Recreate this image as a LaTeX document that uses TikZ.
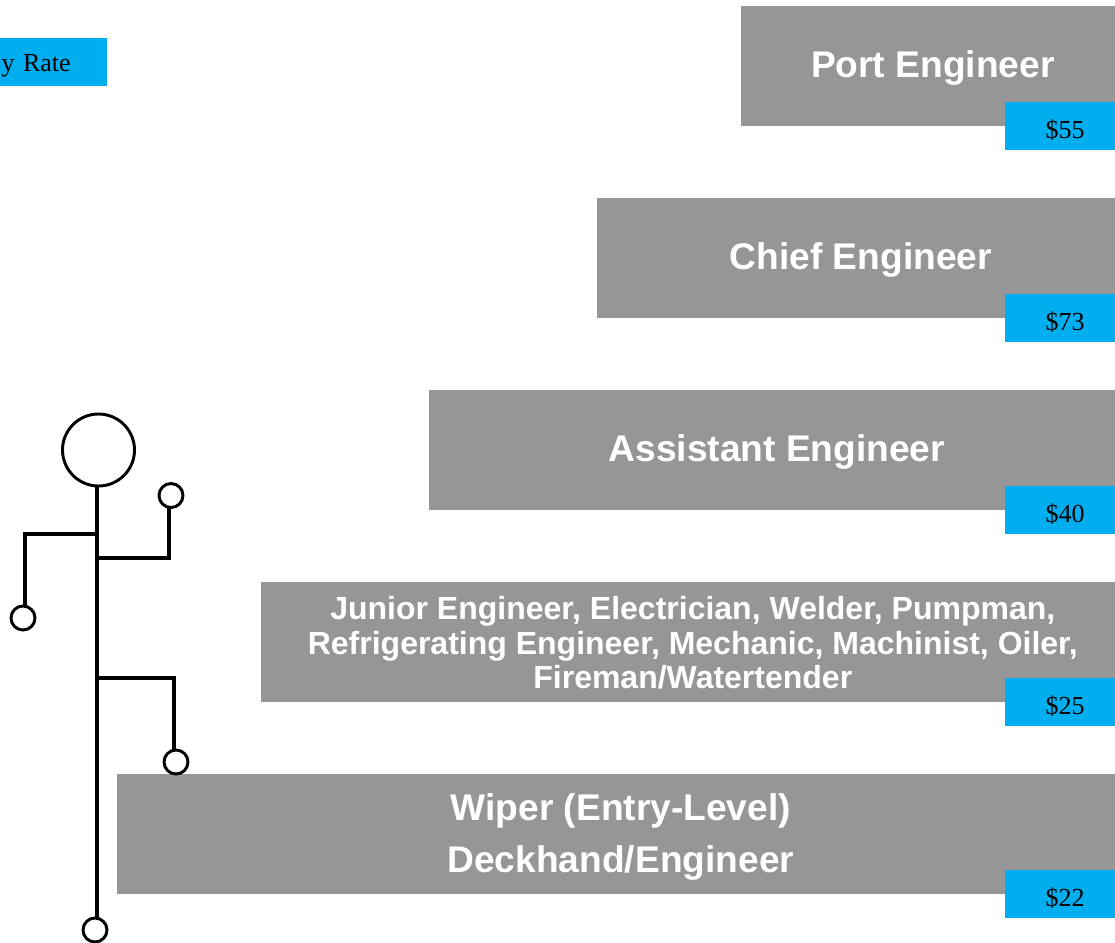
\documentclass[tikz,border=0pt]{standalone}
\usepackage{fontspec}
\setmainfont{Liberation Serif}
\setsansfont{Liberation Sans}
\usetikzlibrary{calc}
\definecolor{rungGray}{HTML}{969696}
\definecolor{rateBlue}{HTML}{00ADEF}
\tikzset{
  rung/.style   = {fill=rungGray, minimum height=90pt, inner sep=0pt, outer sep=0pt},
  rank/.style   = {align=center, text=white, inner sep=0pt,
                   font=\sffamily\bfseries\fontsize{27.85}{39}\selectfont},
  ranksm/.style = {rank, font=\sffamily\bfseries\fontsize{24}{26}\selectfont},
  rate/.style   = {fill=rateBlue, minimum width=82.5pt, minimum height=36pt,
                   inner sep=0pt, outer sep=0pt},
  pay/.style    = {inner sep=0pt, font=\fontsize{19.5}{22}\selectfont},
  joint/.style  = {draw=black, circle, fill=white, line width=2.2pt, inner sep=0pt,
                   outer sep=0pt, minimum size=18pt},
  limb/.style   = {draw=black, line width=2.4pt}
}
\begin{document}
\begin{tikzpicture}[x=0.75pt, y=-0.75pt]
\useasboundingbox (0,0) rectangle (1115,943);
% Legend
\node[rate, minimum width=80.25pt] (legend) at (53.5,62) {};
\node[pay, anchor=east] (legendtext) at (71,66) {y\hspace{1.5pt} Rate};
% Rungs: name, centre x, centre y, width, label shift, label, rate
\foreach \name/\cx/\cy/\bw/\dy/\lab/\amount in {%
  port/928/66/280.5/-1.2/{Port Engineer}/{\$55},
  chief/856/258/388.5/-1.2/{Chief Engineer}/{\$73},
  assistant/772/450/514.5/-1.2/{Assistant Engineer}/{\$40},
  wiper/616/834/748.5/-2/{Wiper (Entry-Level)\\Deckhand/Engineer}/{\$22}} {
  \node[rung, minimum width=\bw pt] (\name) at (\cx,\cy) {};
  \node[rank] (\name text) at ([xshift=3.6pt,yshift=\dy pt]\name.center) {\lab};
  \node[rate, anchor=south east] (\name rate) at (\name.south east) [yshift=-18pt] {};
  \node[pay] (\name pay) at ([xshift=3.75pt,yshift=-3pt]\name rate.center) {\amount};
}
\node[rung, minimum width=640.5pt] (junior) at (688,642) {};
\node[ranksm] (junior text) at ([xshift=3.6pt,yshift=-0.6pt]junior.center)
  {Junior Engineer, Electrician, Welder, Pumpman,\\
   Refrigerating Engineer, Mechanic, Machinist, Oiler,\\
   Fireman/Watertender};
\node[rate, anchor=south east] (junior rate) at (junior.south east) [yshift=-18pt] {};
\node[pay] (junior pay) at ([xshift=3.75pt,yshift=-3pt]junior rate.center) {\$25};
% Figure
\node[joint, minimum size=54pt] (head) at (98.5,450) {};
\node[joint] (handl) at (23,618) {};
\node[joint] (handr) at (171,495.5) {};
\node[joint] (kneer) at (176,762) {};
\node[joint] (foot) at (95,930) {};
\coordinate (spinetop) at (97,486);
\coordinate (spineend) at (97,918);
\coordinate (shoulderl) at (97,534);
\coordinate (shoulderr) at (97,558);
\coordinate (hip) at (97,678);
\draw[limb] (spinetop) -- (spineend);
\draw[limb] (shoulderl) -- (25,534) -- (25,606);
\draw[limb] (shoulderr) -- (169,558) -- (169,506);
\draw[limb] (hip) -- (174,678) -- (174,750);
\end{tikzpicture}
\end{document}
